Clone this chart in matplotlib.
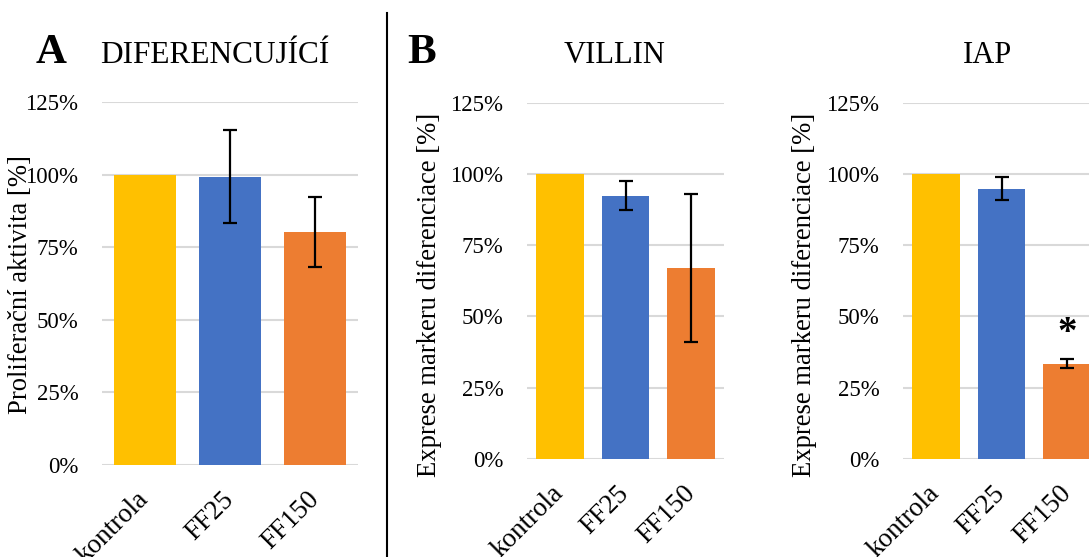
import matplotlib
matplotlib.use("Agg")
import matplotlib.pyplot as plt
from matplotlib.lines import Line2D
from matplotlib.ticker import FuncFormatter

plt.rcParams["font.family"] = ["Liberation Serif", "DejaVu Serif"]

# data (% of control)
skupiny = ["kontrola", "FF25", "FF150"]
barvy = ["#FFC000", "#4472C4", "#ED7D31"]

prolif_mean = [100.0, 99.2, 80.2]
prolif_err = [0.0, 16.0, 12.0]

villin_mean = [100.0, 92.3, 67.0]
villin_err = [0.0, 5.1, 25.9]

iap_mean = [100.0, 94.8, 33.5]
iap_err = [0.0, 4.0, 1.6]

W, H = 1089, 557
fig = plt.figure(figsize=(W / 100, H / 100), dpi=100)


def px_axes(left, top, right, bottom):
    return fig.add_axes([left / W, 1 - bottom / H, (right - left) / W, (bottom - top) / H])


def kresli(ax, mean, err, ylabel, label_x, label_y):
    x = range(len(skupiny))
    ax.bar(x, mean, width=0.73, color=barvy, zorder=2)
    for xi, m, v in zip(x, mean, err):
        if v > 0:
            ax.errorbar(xi, m, yerr=v, fmt="none", ecolor="black",
                        elinewidth=1.6, capsize=5, capthick=1.6, zorder=3)
    ax.set_xlim(-0.5, 2.5)
    ax.set_ylim(0, 125)
    ax.set_yticks([0, 25, 50, 75, 100, 125])
    ax.yaxis.set_major_formatter(FuncFormatter(lambda v, p: f"{v:.0f}%"))
    ax.grid(axis="y", color="#D9D9D9", linewidth=1.5, zorder=0)
    for s in ax.spines.values():
        s.set_visible(False)
    ax.tick_params(axis="y", length=0, pad=17, labelsize=16.5)
    ax.tick_params(axis="x", length=0, pad=22, labelsize=19.5)
    ax.set_xticks(list(x))
    ax.set_xticklabels(skupiny, rotation=45, ha="right", va="center",
                       rotation_mode="anchor")
    ax.set_ylabel(ylabel, fontsize=19.2)
    ax.yaxis.set_label_coords(label_x / W, 1 - label_y / H, transform=fig.transFigure)
    ax.set_axisbelow(True)


axA = px_axes(102, 102, 358, 465)
kresli(axA, prolif_mean, prolif_err, "Proliferační aktivita [%]", 33, 285)

axB = px_axes(527, 102.7, 724, 459)
kresli(axB, villin_mean, villin_err, "Exprese markeru diferenciace [%]", 442, 295)

axC = px_axes(903, 102.7, 1100, 459)
kresli(axC, iap_mean, iap_err, "Exprese markeru diferenciace [%]", 817, 295)
axC.text(2, 44, "*", ha="center", va="center", fontsize=28, fontweight="bold")

# panel titles
fig.text(36 / W, 1 - 63 / H, "A", fontsize=31, fontweight="bold", va="baseline", ha="left")
fig.text(100 / W, 1 - 63 / H, "DIFERENCUJÍCÍ", fontsize=22.5, va="baseline", ha="left")
fig.text(407 / W, 1 - 63 / H, "B", fontsize=31, fontweight="bold", va="baseline", ha="left")
fig.text(615 / W, 1 - 63 / H, "VILLIN", fontsize=22, va="baseline", ha="center")
fig.text(987 / W, 1 - 63 / H, "IAP", fontsize=22, va="baseline", ha="center")

# divider between A and B
fig.add_artist(Line2D([387 / W, 387 / W], [1 - 13 / H, 0], color="black", linewidth=1.5))

fig.savefig("out.png", dpi=100)
